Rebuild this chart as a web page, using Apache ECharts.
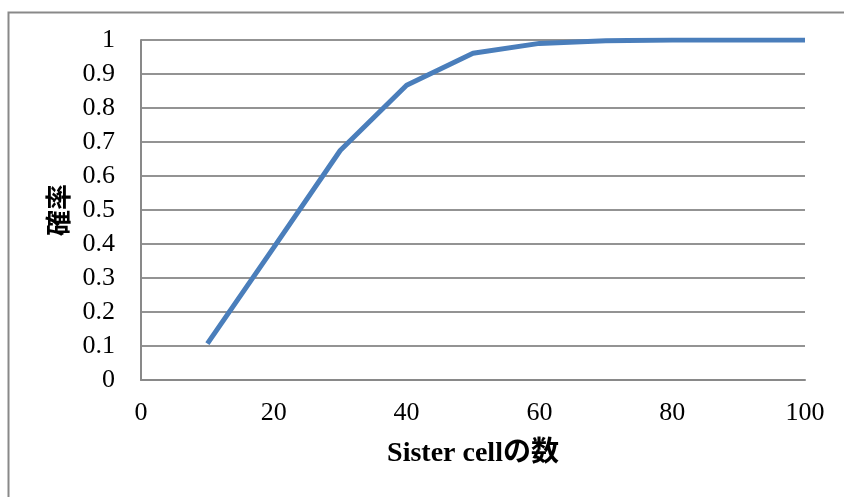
<!DOCTYPE html>
<html>
<head>
<meta charset="utf-8">
<script src="https://cdn.jsdelivr.net/npm/echarts@6/dist/echarts.min.js"></script>
<style>
html,body{margin:0;padding:0;background:#fff;}
#main{width:844px;height:497px;}
</style>
</head>
<body>
<div id="main"></div>
<script>
// Sister cell の数 と 確率
var cellCounts = [10, 20, 30, 40, 50, 60, 70, 80, 90, 100];
var probs = [0.107, 0.39, 0.675, 0.867, 0.961, 0.99, 0.998, 1, 1, 1];

var labelFont = '"Liberation Serif", "Noto Sans CJK JP", serif';

var myChart = echarts.init(document.getElementById('main'));
var option = {
    backgroundColor: '#fff',
    animation: false,
    graphic: [{
        type: 'rect',
        left: 6, top: 10,
        shape: {width: 900, height: 600},
        style: {fill: 'none', stroke: '#898989', lineWidth: 2},
        silent: true
    }],
    grid: {left: 141, right: 39, top: 40, bottom: 117},
    xAxis: {
        type: 'value',
        min: 0, max: 100, interval: 20,
        name: 'Sister cellの数',
        nameLocation: 'middle',
        nameGap: 60,
        nameTextStyle: {fontFamily: labelFont, fontSize: 28, fontWeight: 'bold', color: '#000'},
        axisLine: {show: true, lineStyle: {color: '#898989', width: 2}},
        axisTick: {show: false},
        splitLine: {show: false},
        axisLabel: {fontFamily: labelFont, fontSize: 26, color: '#000', margin: 20}
    },
    yAxis: {
        type: 'value',
        min: 0, max: 1, interval: 0.1,
        name: '確率',
        nameLocation: 'middle',
        nameGap: 70,
        nameRotate: 90,
        nameTextStyle: {fontFamily: '"Noto Sans CJK JP", sans-serif', fontSize: 26, fontWeight: 'bold', color: '#000'},
        axisLine: {show: true, lineStyle: {color: '#898989', width: 2}},
        axisTick: {show: false},
        splitLine: {show: true, lineStyle: {color: '#939393', width: 2}},
        axisLabel: {fontFamily: labelFont, fontSize: 26, color: '#000', margin: 26}
    },
    series: [{
        type: 'line',
        data: cellCounts.map(function (c, i) { return [c, probs[i]]; }),
        symbol: 'none',
        lineStyle: {color: '#4a7ebb', width: 5}
    }]
};
myChart.setOption(option);
</script>
</body>
</html>
